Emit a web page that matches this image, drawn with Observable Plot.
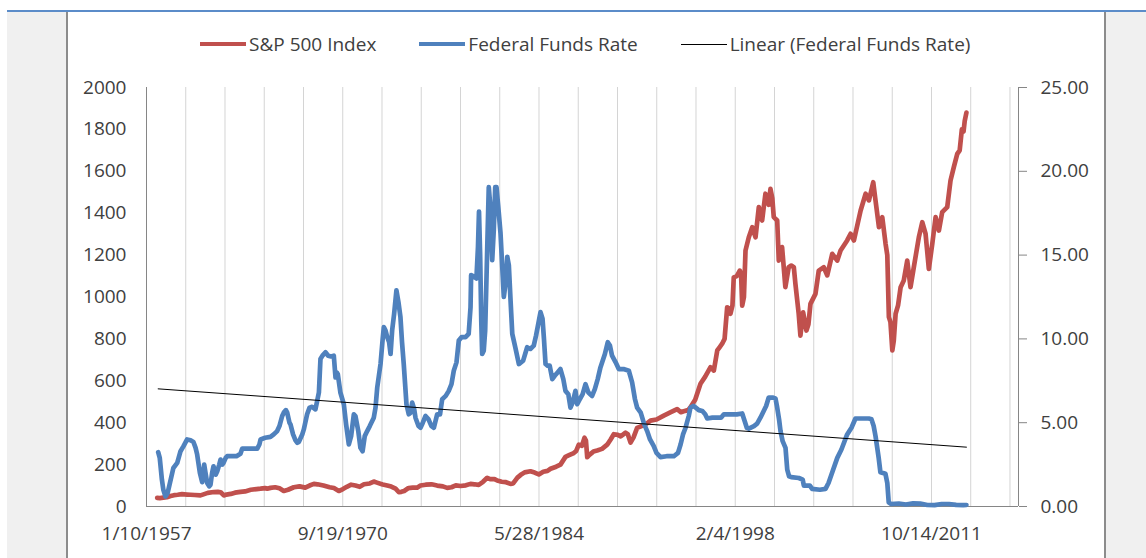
<!DOCTYPE html>
<html><head><meta charset="utf-8">
<script src="https://cdn.jsdelivr.net/npm/d3@7"></script>
<script src="https://cdn.jsdelivr.net/npm/@observablehq/plot@0.6"></script>
<style>
html,body{margin:0;padding:0;}
body{width:1146px;height:558px;position:relative;overflow:hidden;background:#fff;font-family:"Open Sans",sans-serif;color:#404040;}
#topline{position:absolute;left:7px;top:10px;width:1139px;height:2px;background:#5b8cc9;}
#lgray{position:absolute;left:7px;top:12px;width:59px;height:546px;background:#f0f0f0;}
#rgray{position:absolute;left:1106px;top:12px;width:40px;height:546px;background:#f0f0f0;}
#box{position:absolute;left:66px;top:12px;width:1036px;height:560px;border-left:2px solid #8c8c8c;border-right:2px solid #8c8c8c;background:#fff;}
#legend{position:absolute;left:200px;top:32px;height:24px;display:flex;align-items:center;font-size:19px;white-space:nowrap;color:#404040;}
.item{display:flex;align-items:center;margin-right:43px;}
.sw{width:46px;margin-right:3px;}
#chart{position:absolute;left:0;top:70px;}
</style></head>
<body>
<div id="topline"></div><div id="lgray"></div><div id="rgray"></div><div id="box"></div>
<div id="legend"></div>
<div id="chart"></div>
<script>
// ---- Data ----
const seriesNames = ["S&P 500 Index", "Federal Funds Rate", "Linear (Federal Funds Rate)"];
const seriesColors = ["#C0504D", "#4F81BD", "#000000"];
const seriesWidths = [4.7, 4.7, 1];

const xTickLabels = ["1/10/1957", "9/19/1970", "5/28/1984", "2/4/1998", "10/14/2011"];
const gridStepDays = 1000;
const axisSpanDays = 22217;
const leftTicks = [0, 200, 400, 600, 800, 1000, 1200, 1400, 1600, 1800, 2000];
const rightTicks = [0, 5, 10, 15, 20, 25];

// S&P 500 Index (decimal year, index level)
const spYear = [1957.77,1957.95,1958.2,1958.45,1958.7,1958.95,1959.2,1959.5,1959.86,1960.1,1960.4,1960.79,1961.0,1961.3,1961.72,1962.0,1962.2,1962.42,1962.6,1962.9,1963.2,1963.58,1963.9,1964.3,1964.7,1964.98,1965.3,1965.45,1965.67,1966.0,1966.3,1966.6,1966.9,1967.3,1967.7,1968.1,1968.4,1968.7,1968.95,1969.37,1969.8,1970.1,1970.44,1970.7,1971.0,1971.3,1971.6,1971.9,1972.2,1972.6,1972.88,1973.1,1973.5,1973.82,1974.1,1974.4,1974.63,1974.8,1975.0,1975.3,1975.6,1975.9,1976.14,1976.5,1976.9,1977.3,1977.7,1978.0,1978.3,1978.6,1978.93,1979.3,1979.63,1979.9,1980.2,1980.5,1980.79,1981.0,1981.3,1981.49,1981.8,1982.1,1982.42,1982.6,1982.9,1983.11,1983.4,1983.81,1984.1,1984.39,1984.7,1985.0,1985.21,1985.6,1985.9,1986.25,1986.5,1986.83,1987.0,1987.18,1987.4,1987.58,1987.68,1987.77,1987.9,1988.2,1988.46,1988.8,1989.16,1989.4,1989.62,1989.9,1990.1,1990.44,1990.6,1990.79,1991.0,1991.25,1991.6,1991.9,1992.18,1992.6,1993.11,1993.6,1994.04,1994.3,1994.5,1994.8,1994.97,1995.3,1995.67,1996.0,1996.37,1996.6,1996.84,1997.0,1997.18,1997.35,1997.53,1997.65,1997.76,1997.9,1997.99,1998.2,1998.41,1998.5,1998.58,1998.7,1998.81,1999.04,1999.28,1999.51,1999.74,1999.97,2000.2,2000.43,2000.55,2000.68,2000.78,2001.02,2001.13,2001.36,2001.59,2001.82,2002.0,2002.18,2002.29,2002.52,2002.64,2002.83,2003.06,2003.2,2003.34,2003.69,2003.92,2004.27,2004.51,2004.86,2005.21,2005.44,2005.9,2006.14,2006.37,2006.84,2007.19,2007.42,2007.72,2007.88,2008.12,2008.35,2008.58,2008.7,2008.81,2008.92,2009.05,2009.15,2009.28,2009.45,2009.63,2009.85,2010.09,2010.32,2010.55,2010.9,2011.14,2011.37,2011.6,2011.84,2012.07,2012.3,2012.53,2012.88,2013.11,2013.34,2013.58,2013.75,2013.9,2014.02,2014.1,2014.22];
const spValue = [41,40,42,44,50,54,56,59,57,56,55,53,58,65,69,70,68,53,57,60,66,70,72,80,83,85,88,85,89,92,87,74,80,92,96,90,100,108,106,100,92,88,74,82,94,104,100,94,106,110,119,114,105,100,95,85,68,70,74,88,90,90,100,104,106,100,96,89,92,101,98,101,108,106,103,118,137,131,131,124,118,116,108,110,138,150,163,168,162,153,166,170,180,190,200,237,245,255,265,295,290,328,315,235,245,262,267,275,295,320,345,342,335,352,345,305,330,375,385,395,410,415,434,450,465,450,455,460,474,510,586,620,665,649,745,760,777,800,951,945,920,960,1094,1100,1126,1110,959,1000,1222,1285,1333,1285,1429,1365,1493,1440,1516,1470,1381,1365,1174,1238,1047,1142,1150,1142,1063,920,816,927,840,870,967,1015,1126,1142,1103,1206,1174,1222,1270,1302,1270,1413,1493,1461,1548,1461,1333,1381,1254,1200,904,880,745,790,920,960,1047,1079,1174,1047,1142,1285,1357,1302,1134,1254,1381,1317,1405,1429,1556,1620,1683,1700,1800,1790,1840,1880];

// Federal Funds Rate (decimal year, percent)
const ffYear = [1957.84,1957.95,1958.1,1958.2,1958.35,1958.5,1958.7,1958.9,1959.17,1959.4,1959.61,1959.86,1960.1,1960.3,1960.45,1960.56,1960.75,1960.91,1961.05,1961.14,1961.26,1961.4,1961.49,1961.6,1961.7,1961.85,1961.96,1962.1,1962.19,1962.3,1962.4,1962.55,1962.65,1963.0,1963.3,1963.58,1963.7,1964.0,1964.5,1964.75,1964.9,1964.98,1965.3,1965.67,1965.9,1966.14,1966.3,1966.49,1966.6,1966.75,1966.84,1967.0,1967.07,1967.25,1967.42,1967.55,1967.65,1967.89,1968.0,1968.23,1968.4,1968.58,1968.81,1968.93,1969.05,1969.16,1969.3,1969.51,1969.7,1969.9,1970.09,1970.21,1970.3,1970.37,1970.55,1970.79,1970.95,1971.14,1971.3,1971.49,1971.6,1971.8,1971.95,1972.1,1972.25,1972.42,1972.6,1972.88,1973.0,1973.12,1973.35,1973.5,1973.58,1973.7,1973.82,1973.95,1974.05,1974.16,1974.3,1974.46,1974.6,1974.74,1974.85,1974.97,1975.16,1975.32,1975.45,1975.56,1975.7,1975.79,1976.0,1976.14,1976.3,1976.49,1976.7,1976.9,1977.07,1977.3,1977.5,1977.65,1977.9,1978.11,1978.3,1978.46,1978.65,1978.81,1979.0,1979.28,1979.5,1979.63,1979.67,1979.9,1980.04,1980.15,1980.22,1980.3,1980.38,1980.44,1980.55,1980.65,1980.79,1980.9,1981.0,1981.14,1981.25,1981.35,1981.44,1981.55,1981.72,1981.95,1982.1,1982.19,1982.3,1982.42,1982.54,1982.75,1983.0,1983.3,1983.58,1983.8,1984.04,1984.2,1984.4,1984.51,1984.65,1984.75,1984.86,1985.0,1985.15,1985.33,1985.5,1985.7,1985.9,1986.1,1986.25,1986.45,1986.6,1986.75,1986.95,1987.07,1987.25,1987.45,1987.65,1987.85,1988.11,1988.3,1988.5,1988.69,1989.0,1989.2,1989.35,1989.5,1989.75,1989.97,1990.3,1990.67,1990.9,1991.1,1991.25,1991.5,1991.75,1991.95,1992.15,1992.41,1992.6,1992.88,1993.3,1993.81,1994.1,1994.28,1994.45,1994.63,1994.85,1994.97,1995.2,1995.55,1995.8,1996.0,1996.14,1996.5,1996.84,1997.1,1997.3,1997.8,1998.2,1998.58,1998.75,1998.9,1999.04,1999.4,1999.62,1999.85,2000.08,2000.25,2000.43,2000.7,2000.9,2001.0,2001.15,2001.25,2001.4,2001.6,2001.72,2001.85,2002.0,2002.53,2002.8,2002.88,2003.3,2003.46,2004.0,2004.39,2004.6,2004.8,2005.21,2005.5,2005.9,2006.2,2006.48,2007.0,2007.41,2007.6,2007.75,2007.88,2008.0,2008.1,2008.22,2008.4,2008.57,2008.7,2008.8,2008.95,2009.5,2010.0,2010.5,2011.0,2011.5,2012.0,2012.5,2013.0,2013.5,2014.0,2014.22];
const ffRate = [3.24,2.9,1.6,1.0,0.6,0.8,1.55,2.3,2.6,3.3,3.6,4.0,3.95,3.85,3.5,3.1,2.0,1.45,2.5,2.0,1.4,1.2,1.3,2.0,2.4,1.9,2.1,2.5,2.8,2.5,2.6,2.9,3.0,3.0,3.0,3.15,3.45,3.45,3.45,3.45,3.7,4.0,4.1,4.15,4.3,4.5,4.8,5.4,5.6,5.75,5.6,5.0,4.9,4.3,3.95,3.8,3.85,4.3,4.6,5.5,5.9,5.95,5.8,6.3,6.8,8.8,9.0,9.2,9.0,8.95,9.0,7.7,8.0,7.9,6.8,6.1,4.9,3.7,4.2,5.5,5.4,4.5,3.5,3.3,4.2,4.5,4.8,5.3,5.9,7.1,8.5,10.0,10.7,10.5,10.1,9.8,9.1,10.5,11.5,12.9,12.2,11.3,9.8,8.5,6.1,5.5,5.6,6.2,5.8,5.3,4.8,4.7,5.0,5.4,5.2,4.8,4.7,5.5,5.5,6.4,6.6,6.9,7.3,8.1,8.6,9.9,10.1,10.1,10.3,11.9,13.8,13.7,13.6,15.5,17.6,15.0,11.0,9.1,9.3,10.5,15.3,19.05,18.0,14.7,16.5,19.05,19.05,18.0,16.3,12.5,13.5,14.9,14.4,12.3,10.3,9.5,8.5,8.7,9.5,9.4,9.6,10.2,11.1,11.6,11.2,10.0,8.5,8.4,8.4,7.6,7.8,8.0,8.2,7.6,6.9,6.7,5.9,6.2,6.9,6.1,6.4,6.7,7.3,6.8,6.6,7.0,7.6,8.3,9.1,9.8,9.6,9.0,8.6,8.2,8.2,8.1,7.4,6.4,5.9,5.6,4.9,4.5,4.0,3.6,3.2,2.95,3.0,3.0,3.2,3.7,4.3,4.7,5.4,5.9,6.0,5.75,5.7,5.5,5.25,5.3,5.3,5.3,5.5,5.5,5.5,5.55,5.1,4.7,4.65,4.8,4.95,5.3,5.7,6.0,6.5,6.5,6.45,6.0,5.2,4.5,3.9,3.5,2.2,1.8,1.75,1.7,1.6,1.25,1.25,1.05,1.0,1.05,1.4,1.9,2.9,3.4,4.3,4.7,5.25,5.25,5.25,5.2,4.8,4.2,3.5,2.9,2.05,2.0,1.95,1.4,0.25,0.15,0.18,0.12,0.19,0.17,0.09,0.08,0.15,0.15,0.1,0.08,0.09];

// Linear trend of the Federal Funds Rate (start / end values)
const trendRate = [7.02, 3.54];

// ---- Build ----
const toDate = y => { const yr = Math.floor(y); const s = Date.UTC(yr,0,1), e = Date.UTC(yr+1,0,1); return new Date(s + (y-yr)*(e-s)); };
const parseTick = d3.utcParse("%m/%d/%Y");
const fmtTick = d3.utcFormat("%-m/%-d/%Y");
const tickDates = xTickLabels.map(parseTick);
const xStart = tickDates[0];
const xEnd = d3.utcDay.offset(xStart, axisSpanDays);
const gridDates = d3.range(1, Math.floor(axisSpanDays / gridStepDays) + 1).map(k => d3.utcDay.offset(xStart, k * gridStepDays));
const leftMax = leftTicks[leftTicks.length - 1];
const rightMax = rightTicks[rightTicks.length - 1];
const ratio = leftMax / rightMax;

const sp = spYear.map((y, i) => ({date: toDate(y), value: spValue[i]}));
const ff = ffYear.map((y, i) => ({date: toDate(y), rate: ffRate[i]}));
const trend = [{date: toDate(ffYear[0]), rate: trendRate[0]}, {date: toDate(ffYear[ffYear.length-1]), rate: trendRate[1]}];

// Legend
const legend = document.getElementById("legend");
seriesNames.forEach((n, i) => {
  const it = document.createElement("div"); it.className = "item";
  const sw = document.createElement("div"); sw.className = "sw";
  sw.style.height = (seriesWidths[i] > 2 ? 4 : 1) + "px"; sw.style.background = seriesColors[i];
  const t = document.createElement("span"); t.textContent = n;
  it.appendChild(sw); it.appendChild(t); legend.appendChild(it);
});

const axisColor = "#868686";
const chart = Plot.plot({
  width: 1146, height: 488,
  marginLeft: 146, marginRight: 128, marginTop: 17, marginBottom: 52,
  style: {background: "none", fontFamily: "'Open Sans', sans-serif", fontSize: "19px", color: "#404040", overflow: "visible"},
  x: {type: "utc", domain: [xStart, xEnd], label: null},
  y: {domain: [0, leftMax], label: null},
  marks: [
    Plot.ruleX(gridDates, {stroke: "#d4d4d4", strokeWidth: 1}),
    Plot.ruleX([xStart, xEnd], {stroke: axisColor, strokeWidth: 1}),
    Plot.ruleY([0], {stroke: axisColor, strokeWidth: 1}),
    Plot.axisY(leftTicks, {anchor: "left", tickSize: 0, tickPadding: 20, fontSize: 19, tickFormat: d => String(d), label: null}),
    Plot.axisY(rightTicks.map(v => v * ratio), {anchor: "right", tickSize: 8, tickPadding: 14, fontSize: 19, stroke: axisColor, tickFormat: d => (d / ratio).toFixed(2), label: null}),
    Plot.axisX(tickDates, {anchor: "bottom", tickSize: 0, tickPadding: 20, fontSize: 19, tickFormat: fmtTick, label: null}),
    Plot.line(sp, {x: "date", y: "value", stroke: seriesColors[0], strokeWidth: seriesWidths[0], strokeLinejoin: "round", strokeLinecap: "round"}),
    Plot.line(ff, {x: "date", y: d => d.rate * ratio, stroke: seriesColors[1], strokeWidth: seriesWidths[1], strokeLinejoin: "round", strokeLinecap: "round"}),
    Plot.line(trend, {x: "date", y: d => d.rate * ratio, stroke: seriesColors[2], strokeWidth: seriesWidths[2]})
  ]
});
document.getElementById("chart").appendChild(chart);
</script>
</body></html>
